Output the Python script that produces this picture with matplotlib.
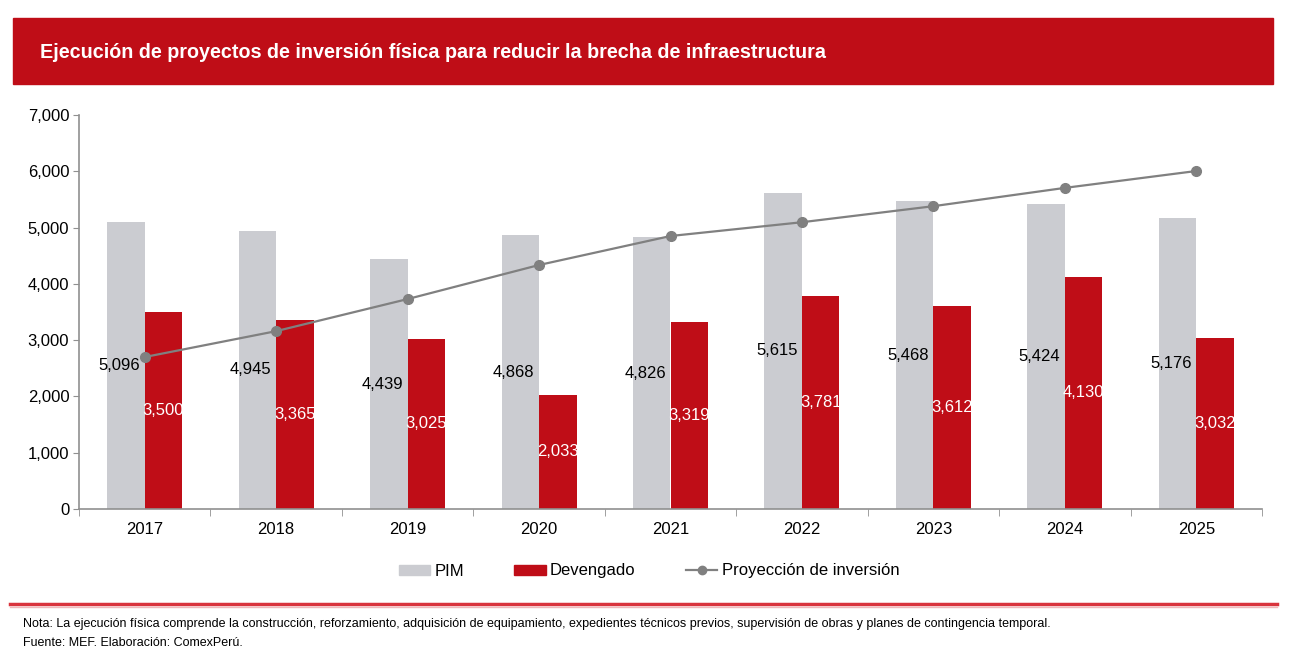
import matplotlib.pyplot as plt
import numpy as np
from matplotlib.patches import Rectangle
from matplotlib.lines import Line2D

plt.rcParams['font.family'] = ['Liberation Sans', 'DejaVu Sans']

# Datos
years = ['2017', '2018', '2019', '2020', '2021', '2022', '2023', '2024', '2025']
pim = [5096, 4945, 4439, 4868, 4826, 5615, 5468, 5424, 5176]
devengado = [3500, 3365, 3025, 2033, 3319, 3781, 3612, 4130, 3032]
proyeccion = [2700, 3160, 3730, 4335, 4850, 5095, 5380, 5705, 6005]

ROJO = '#BF0D17'
GRIS = '#CBCCD1'
LINEA = '#808080'

fig = plt.figure(figsize=(12.97, 6.71), dpi=100)

# Banda del título
fig.patches.append(Rectangle((13 / 1297, 1 - 84 / 671), 1260 / 1297, 66 / 671,
                             transform=fig.transFigure, color=ROJO, zorder=0))
fig.text(40 / 1297, 1 - 52 / 671,
         'Ejecución de proyectos de inversión física para reducir la brecha de infraestructura',
         color='white', fontsize=14.2, fontweight='bold', va='center', ha='left')

ax = fig.add_axes([79 / 1297, 1 - 509 / 671, (1262 - 79) / 1297, (509 - 115) / 671])

x = np.arange(len(years))
w = 0.285
ax.bar(x - w / 2, pim, w, color=GRIS, label='PIM', zorder=2)
ax.bar(x + w / 2, devengado, w, color=ROJO, label='Devengado', zorder=2)
ax.plot(x, proyeccion, color=LINEA, lw=1.6, marker='o', ms=7,
        label='Proyección de inversión', zorder=3)

for i in range(len(years)):
    ax.text(x[i] - w / 2 - 0.05, pim[i] / 2, f'{pim[i]:,}', ha='center', va='center',
            fontsize=12, color='black', zorder=4)
    ax.text(x[i] + w / 2, devengado[i] / 2, f'{devengado[i]:,}', ha='center', va='center',
            fontsize=12, color='white', zorder=4)

ax.set_xlim(-0.5, len(years) - 0.5)
ax.set_ylim(0, 7000)
ax.set_yticks(range(0, 7001, 1000))
ax.set_yticklabels([f'{v:,}' for v in range(0, 7001, 1000)], fontsize=12)
ax.set_xticks(x)
ax.set_xticklabels(years, fontsize=12)
ax.set_xticks(np.arange(-0.5, len(years), 1), minor=True)
ax.tick_params(axis='x', which='major', length=0, pad=9)
ax.tick_params(axis='x', which='minor', length=5, color='#909090', direction='out')
ax.tick_params(axis='y', length=4, color='#909090', pad=3)
for s in ['top', 'right']:
    ax.spines[s].set_visible(False)
for s in ['left', 'bottom']:
    ax.spines[s].set_color('#909090')
    ax.spines[s].set_linewidth(1.2)

handles = [Rectangle((0, 0), 1, 1, color=GRIS),
           Rectangle((0, 0), 1, 1, color=ROJO),
           Line2D([0], [0], color=LINEA, lw=1.6, marker='o', ms=6)]
fig.legend(handles, ['PIM', 'Devengado', 'Proyección de inversión'],
           loc='center', bbox_to_anchor=(649 / 1297, 1 - 571 / 671), ncol=3,
           frameon=False, fontsize=12, columnspacing=3.0, handlelength=1.9,
           handleheight=0.55, handletextpad=0.25)

# Línea separadora
fig.add_artist(Line2D([10 / 1297, 1277 / 1297], [1 - 604 / 671, 1 - 604 / 671],
                      transform=fig.transFigure, color='#D9343D', lw=2.5))
fig.add_artist(Line2D([10 / 1297, 1277 / 1297], [1 - 606.5 / 671, 1 - 606.5 / 671],
                      transform=fig.transFigure, color='#F0B8BB', lw=1))

fig.text(23 / 1297, 1 - 624 / 671,
         'Nota: La ejecución física comprende la construcción, reforzamiento, adquisición de equipamiento, '
         'expedientes técnicos previos, supervisión de obras y planes de contingencia temporal.',
         fontsize=9, va='center', ha='left')
fig.text(23 / 1297, 1 - 643 / 671, 'Fuente: MEF. Elaboración: ComexPerú.',
         fontsize=9, va='center', ha='left')

fig.savefig('out.png', dpi=100)
